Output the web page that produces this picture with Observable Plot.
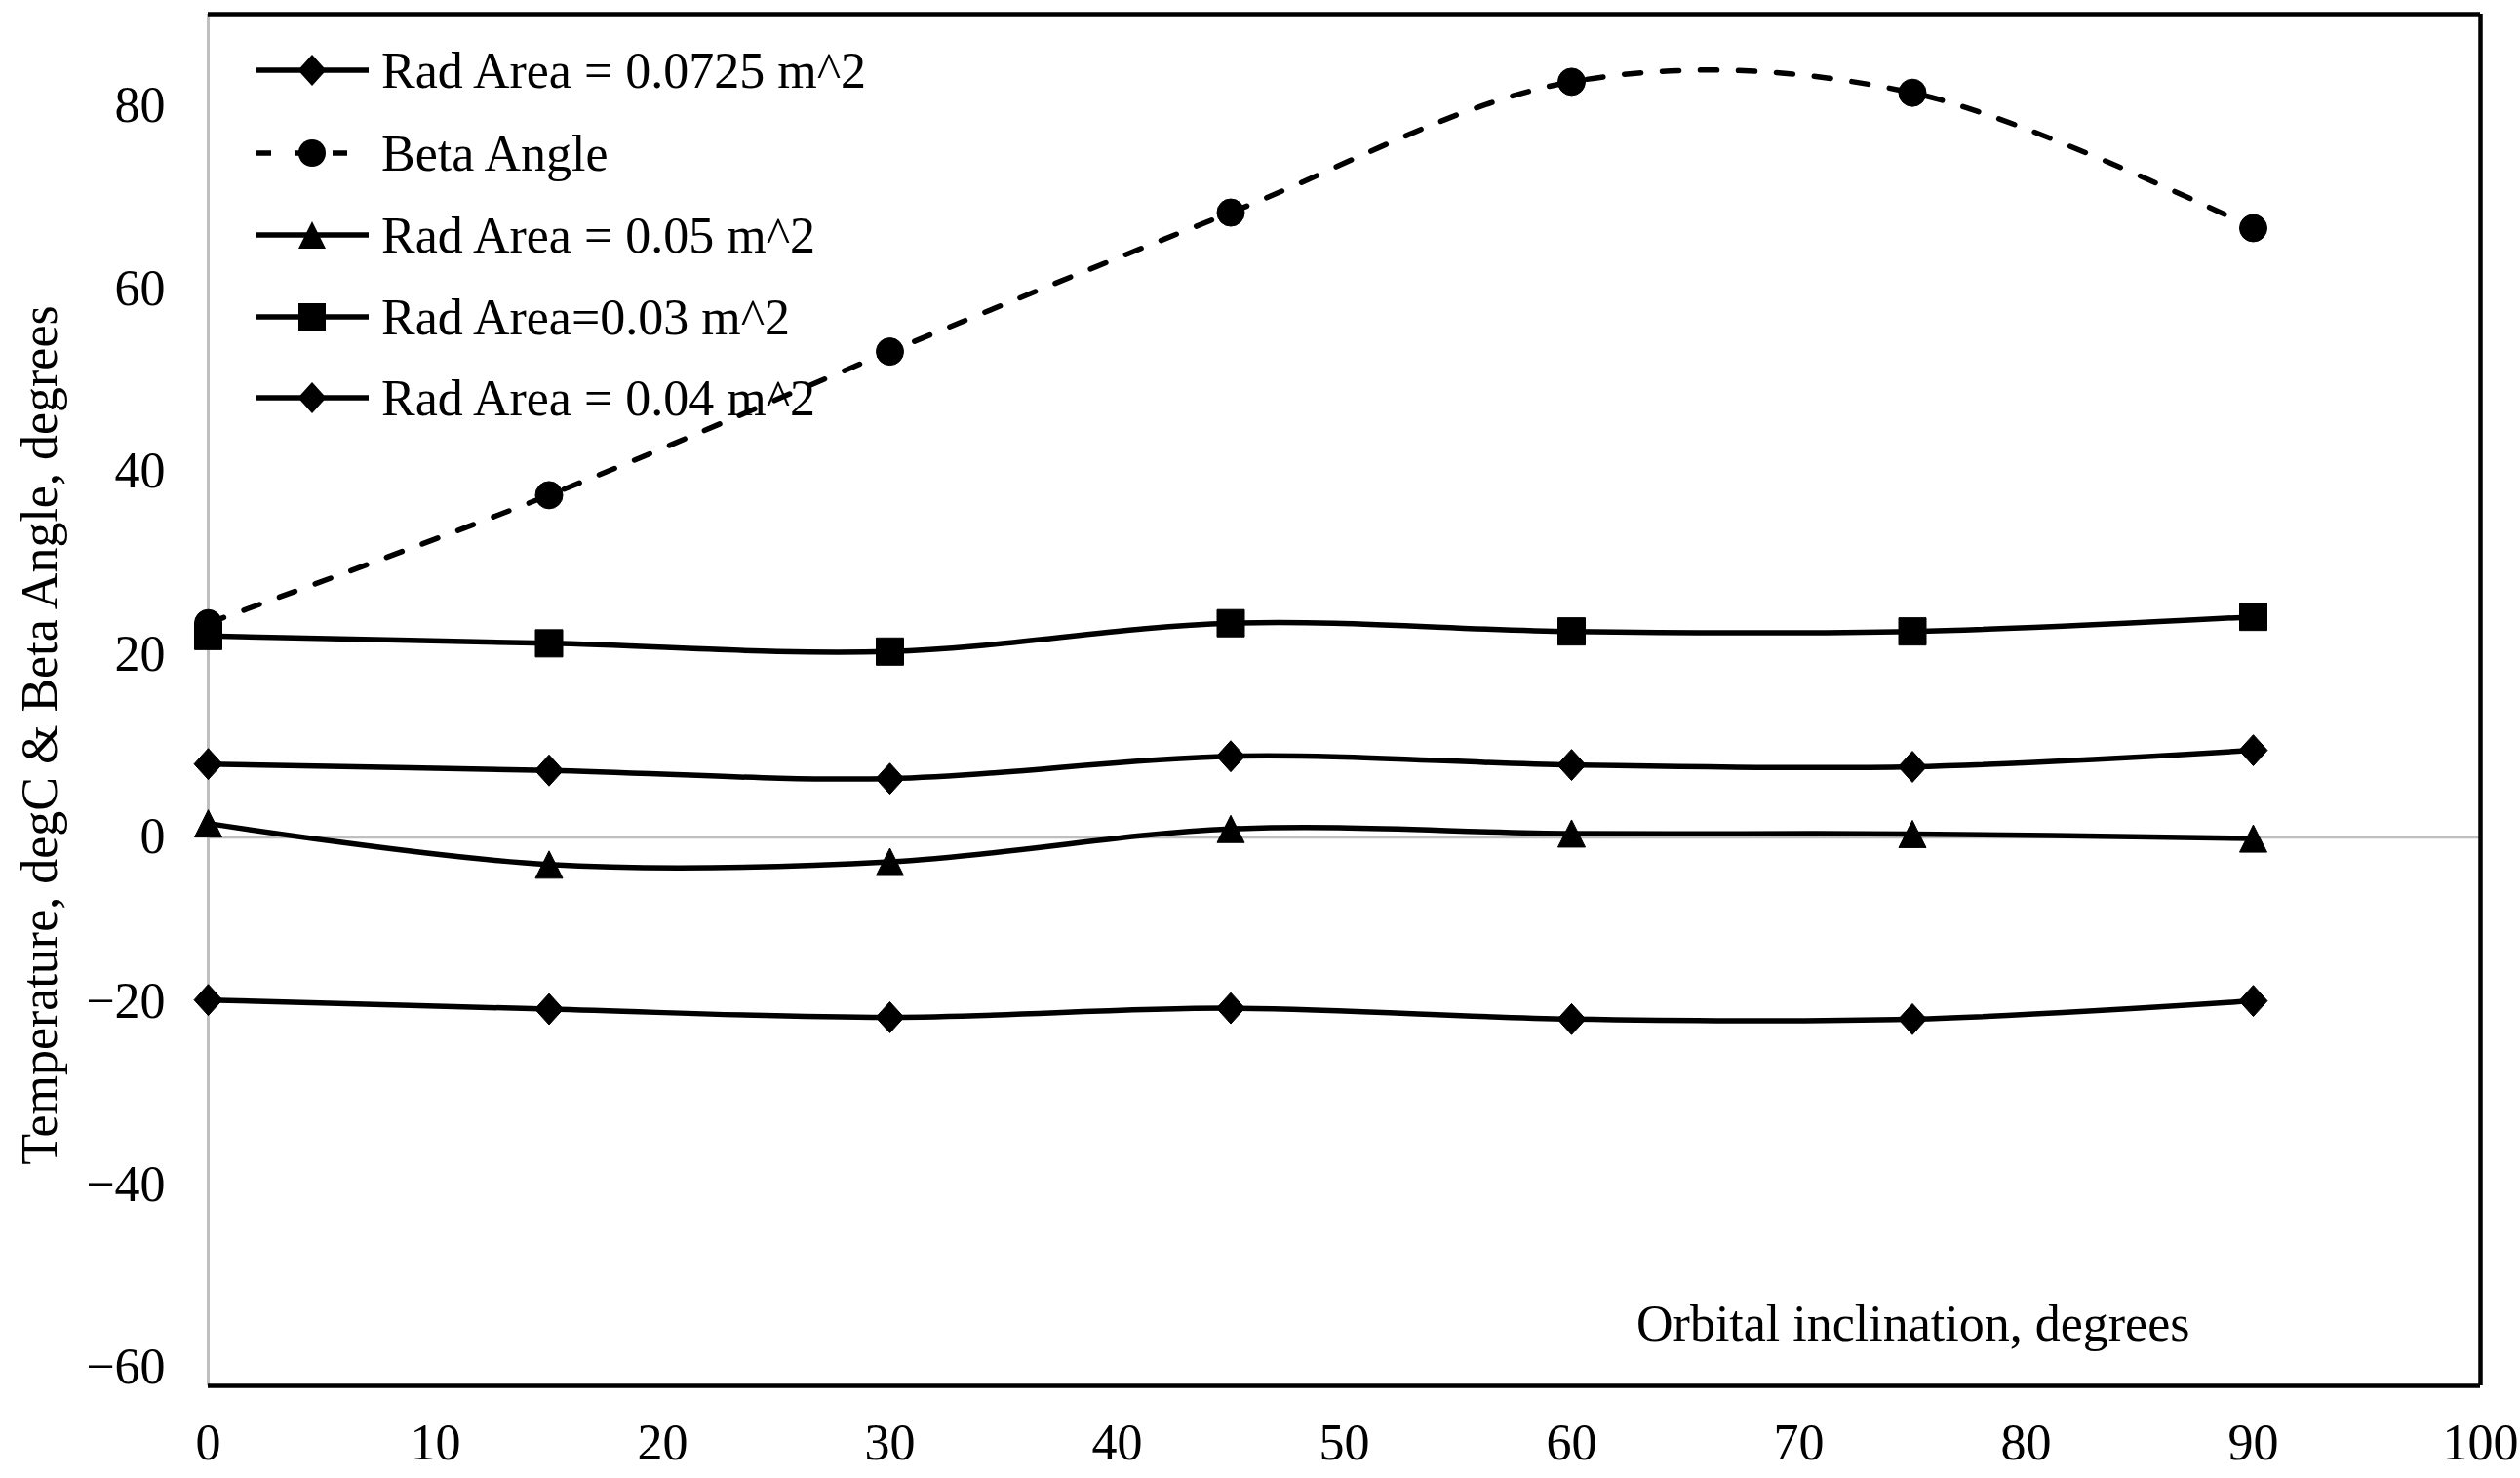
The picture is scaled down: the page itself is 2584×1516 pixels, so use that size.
<!DOCTYPE html>
<html><head><meta charset="utf-8">
<script src="https://cdn.jsdelivr.net/npm/d3@7"></script>
<script src="https://cdn.jsdelivr.net/npm/@observablehq/plot@0.6"></script>
<style>
body{margin:0;background:#fff;}
#wrap{position:relative;width:2584px;height:1516px;font-family:"Liberation Serif","Times New Roman",serif;color:#000;}
#legend{position:absolute;left:263px;top:0;}
.row{position:absolute;left:0;display:flex;align-items:center;height:60px;white-space:nowrap;font-size:52px;}
.row svg{display:block;margin-right:2px;}
</style></head><body><div id="wrap"><div id="chart"></div><div id="legend"></div></div>
<script>
// ---- data ----
const inclination = [0, 15, 30, 45, 60, 75, 90];
const betaAngle   = [23.4, 37.4, 53.1, 68.3, 82.6, 81.4, 66.6];
const rad0725     = [-17.8, -18.8, -19.7, -18.7, -19.9, -19.9, -17.9];
const rad05       = [1.5, -3.0, -2.7, 0.9, 0.4, 0.35, -0.15];
const rad03       = [22.0, 21.2, 20.3, 23.4, 22.5, 22.5, 24.1];
const rad04       = [8.0, 7.3, 6.4, 8.85, 7.9, 7.7, 9.5];

const seriesNames  = ["Rad Area = 0.0725 m^2", "Beta Angle", "Rad Area = 0.05 m^2", "Rad Area=0.03 m^2", "Rad Area = 0.04 m^2"];
const seriesValues = [rad0725, betaAngle, rad05, rad03, rad04];
const seriesMarker = ["diamond", "circle", "triangle", "square", "diamond"];
const seriesDashed = [false, true, false, false, false];

const xTicks = [0, 10, 20, 30, 40, 50, 60, 70, 80, 90, 100];
const yTicks = [-60, -40, -20, 0, 20, 40, 60, 80];
const xDomain = [0, 100];
const yDomain = [-60, 90];
const xTitle = "Orbital inclination, degrees";
const yTitle = "Temperature, degC & Beta Angle, degrees";

// ---- marker shapes ----
const symbols = {
  diamond: {draw(c, s){const r=Math.sqrt(s/Math.PI), h=r*1.1; c.moveTo(0,-h); c.lineTo(r,0); c.lineTo(0,h); c.lineTo(-r,0); c.closePath();}},
  square: {draw(c, s){const r=Math.sqrt(s/Math.PI); c.rect(-r,-r,2*r,2*r);}},
  triangle: {draw(c, s){const r=Math.sqrt(s/Math.PI); c.moveTo(0,-r); c.lineTo(r,r); c.lineTo(-r,r); c.closePath();}},
  circle: {draw(c, s){const r=Math.sqrt(s/Math.PI); c.moveTo(r,0); c.arc(0,0,r,0,2*Math.PI);}}
};
const markerR = {diamond: 14.5, square: 14, triangle: 14, circle: 14};

const rows = seriesNames.flatMap((name, i) => inclination.map((x, j) => ({series: name, idx: i, x, y: seriesValues[i][j]})));

const W = 2584, H = 1516;
const mL = 213, mR = 41, mT = 14, mB = 95;
const fmt = d3.format("d");

const marks = [
  Plot.ruleX([xDomain[0]], {stroke: "#bfbfbf", strokeWidth: 3}),
  Plot.ruleY([0], {stroke: "#bfbfbf", strokeWidth: 3}),
  Plot.ruleY([yDomain[1]], {stroke: "#000", strokeWidth: 4.5}),
  Plot.ruleY([yDomain[0]], {stroke: "#000", strokeWidth: 4.5}),
  Plot.ruleX([xDomain[1]], {stroke: "#000", strokeWidth: 4.5}),
  Plot.axisX(xTicks, {anchor: "bottom", tickSize: 0, tickPadding: 39, label: null, tickFormat: fmt}),
  Plot.axisY(yTicks.filter(t => t >= 0), {anchor: "left", tickSize: 0, tickPadding: 44, label: null, tickFormat: fmt}),
  Plot.axisY(yTicks.filter(t => t < 0), {anchor: "left", tickSize: 0, tickPadding: 44, label: null, tickFormat: fmt, dy: -19}),
  Plot.text([xTitle], {frameAnchor: "bottom-right", dx: -298, dy: -47, textAnchor: "end", lineAnchor: "bottom", fill: "#000"}),
  Plot.text([yTitle], {frameAnchor: "left", rotate: -90, dx: -172, dy: 36, textAnchor: "middle", lineAnchor: "middle", fill: "#000"})
];
seriesNames.forEach((name, i) => {
  const d = rows.filter(r => r.idx === i);
  marks.push(Plot.line(d, {x: "x", y: "y", curve: "cardinal", stroke: "#000", strokeWidth: 5.5,
    strokeDasharray: seriesDashed[i] ? "17,22" : null, strokeLinecap: seriesDashed[i] ? "round" : "butt"}));
  const m = seriesMarker[i];
  marks.push(Plot.dot(d, {x: "x", y: "y", symbol: symbols[m], r: markerR[m], fill: "#000", stroke: "#000", strokeWidth: 1}));
});

const chart = Plot.plot({
  width: W, height: H,
  marginLeft: mL, marginRight: mR, marginTop: mT, marginBottom: mB,
  x: {domain: xDomain},
  y: {domain: yDomain},
  style: {fontFamily: '"Liberation Serif","Times New Roman",serif', fontSize: "52px", color: "#000", background: "#fff", overflow: "visible"},
  marks
});
document.getElementById("chart").appendChild(chart);

// ---- legend (HTML overlay) ----
const legendCenters = [72, 157, 241, 325, 408];
const legend = document.getElementById("legend");
seriesNames.forEach((name, i) => {
  const row = document.createElement("div");
  row.className = "row";
  row.style.top = (legendCenters[i] - 30) + "px";
  const svg = d3.create("svg").attr("width", 126).attr("height", 60);
  svg.append("line").attr("x1", 0).attr("x2", 115).attr("y1", 30).attr("y2", 30)
    .attr("stroke", "#000").attr("stroke-width", 5.5)
    .attr("stroke-dasharray", seriesDashed[i] ? "15,24" : null);
  const m = seriesMarker[i];
  const p = d3.path();
  symbols[m].draw(p, markerR[m] * markerR[m] * Math.PI);
  svg.append("path").attr("d", p.toString()).attr("transform", "translate(57,30)").attr("fill", "#000");
  row.appendChild(svg.node());
  const span = document.createElement("span");
  span.textContent = name;
  row.appendChild(span);
  legend.appendChild(row);
});
</script></body></html>
